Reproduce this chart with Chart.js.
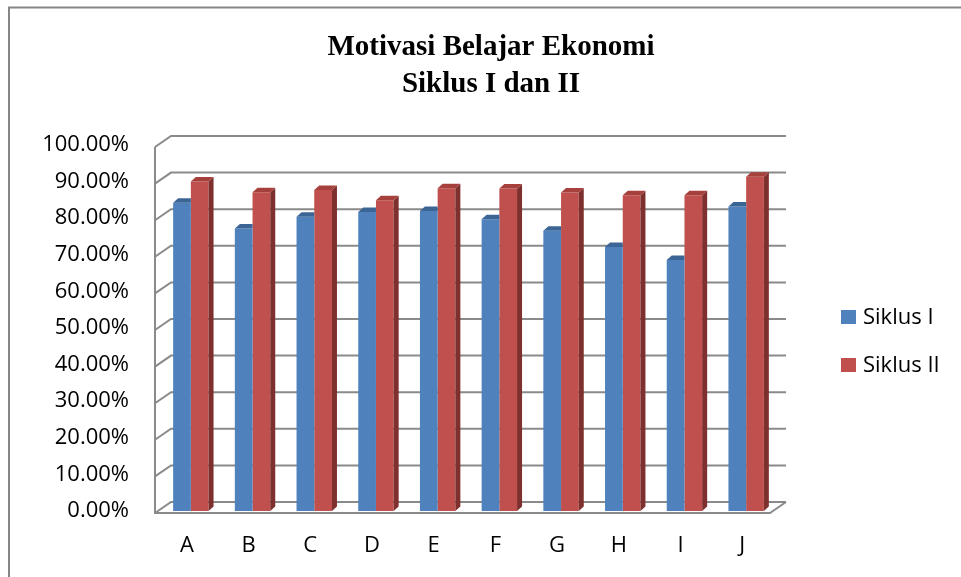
<!DOCTYPE html>
<html>
<head>
<meta charset="utf-8">
<script src="https://cdn.jsdelivr.net/npm/chart.js@4.4.1/dist/chart.umd.min.js"></script>
<style>
html, body { margin: 0; padding: 0; background: #fff; }
#wrap { width: 961px; height: 577px; }
</style>
</head>
<body>
<div id="wrap"><canvas id="chart" width="961" height="577"></canvas></div>
<script>
const categories = ['A', 'B', 'C', 'D', 'E', 'F', 'G', 'H', 'I', 'J'];
const siklus1 = [0.842, 0.772, 0.804, 0.817, 0.820, 0.797, 0.766, 0.721, 0.686, 0.832];
const siklus2 = [0.900, 0.871, 0.877, 0.849, 0.882, 0.881, 0.870, 0.863, 0.863, 0.913];
const seriesNames = ['Siklus I', 'Siklus II'];
const yTicks = [0, 0.1, 0.2, 0.3, 0.4, 0.5, 0.6, 0.7, 0.8, 0.9, 1.0];
const titleLines = ['Motivasi Belajar Ekonomi', 'Siklus I dan II'];

const frontColors = ['#4F81BD', '#C0504D'];
const topColors = ['#3B6595', '#A6403D'];
const sideColors = ['#385D8A', '#7E302E'];
const gridColor = '#8A8A8A';
const DX = 5, DY = -4.5; // bar depth

// walls, floor and bar depth faces
const fake3d = {
    id: 'fake3d',
    beforeDatasetsDraw(chart) {
        const ctx = chart.ctx;
        const y = chart.scales.y;
        const area = chart.chartArea;
        const fx = area.left - 5, bx = area.left + 11;
        const bxr = area.right + 9, fxr = area.right - 7;
        ctx.save();
        ctx.strokeStyle = gridColor;
        ctx.lineWidth = 2;
        ctx.beginPath();
        yTicks.forEach(v => {
            const p = y.getPixelForValue(v);
            ctx.moveTo(fx, p + 2);
            ctx.lineTo(bx, p - 9);
            ctx.lineTo(bxr, p - 9);
        });
        const top = y.getPixelForValue(yTicks[yTicks.length - 1]);
        const zero = y.getPixelForValue(0);
        ctx.moveTo(fx, top + 2);
        ctx.lineTo(fx, zero + 2);
        ctx.lineTo(fxr, zero + 2);
        ctx.lineTo(bxr, zero - 9);
        ctx.stroke();
        ctx.restore();
    },
    afterDatasetDraw(chart, args) {
        const ctx = chart.ctx;
        const i = args.index;
        // the right-hand bar hides the side of the left one
        const last = i === chart.data.datasets.length - 1;
        ctx.save();
        args.meta.data.forEach(bar => {
            const p = bar.getProps(['x', 'y', 'base', 'width'], true);
            const l = p.x - p.width / 2, r = p.x + p.width / 2;
            if (last) {
                ctx.fillStyle = sideColors[i];
                ctx.beginPath();
                ctx.moveTo(r, p.y);
                ctx.lineTo(r + DX, p.y + DY);
                ctx.lineTo(r + DX, p.base + DY);
                ctx.lineTo(r, p.base);
                ctx.closePath();
                ctx.fill();
            }
            const rt = last ? r + DX : r;
            ctx.fillStyle = topColors[i];
            ctx.beginPath();
            ctx.moveTo(l, p.y);
            ctx.lineTo(l + DX, p.y + DY);
            ctx.lineTo(rt, p.y + DY);
            ctx.lineTo(r, p.y);
            ctx.closePath();
            ctx.fill();
        });
        ctx.restore();
    },
    afterDraw(chart) {
        const ctx = chart.ctx;
        ctx.save();
        // outer frame
        ctx.strokeStyle = '#868686';
        ctx.lineWidth = 2;
        ctx.strokeRect(9, 7.5, 1000, 1000);
        // title
        ctx.fillStyle = '#000';
        ctx.font = 'bold 29px "Liberation Serif"';
        ctx.textAlign = 'center';
        ctx.textBaseline = 'alphabetic';
        ctx.fillText(titleLines[0], 491, 55);
        ctx.fillText(titleLines[1], 491, 91.5);
        // legend
        ctx.font = '22px "Open Sans"';
        ctx.textAlign = 'left';
        ctx.textBaseline = 'middle';
        chart.data.datasets.forEach((ds, k) => {
            const ly = 317 + k * 48;
            ctx.fillStyle = ds.backgroundColor;
            ctx.fillRect(841, ly - 7, 15, 14);
            ctx.fillStyle = '#000';
            ctx.fillText(ds.label, 863, ly + 1);
        });
        ctx.restore();
    }
};

Chart.defaults.font.family = '"Open Sans"';
Chart.defaults.font.size = 22;
Chart.defaults.color = '#000';

new Chart(document.getElementById('chart'), {
    type: 'bar',
    data: {
        labels: categories,
        datasets: [
            { label: seriesNames[0], data: siklus1, backgroundColor: frontColors[0] },
            { label: seriesNames[1], data: siklus2, backgroundColor: frontColors[1] }
        ]
    },
    options: {
        responsive: false,
        animation: false,
        devicePixelRatio: 1,
        layout: { padding: { left: 0, right: 184, top: 145, bottom: 0 } },
        datasets: { bar: { categoryPercentage: 0.574, barPercentage: 1.0 } },
        scales: {
            x: {
                grid: { display: false, drawTicks: false },
                border: { display: false },
                ticks: { padding: 22, labelOffset: -4 },
                afterFit: s => { s.height = 66; }
            },
            y: {
                min: 0,
                max: 1,
                grid: { display: false, drawTicks: false },
                border: { display: false },
                afterBuildTicks: s => { s.ticks = yTicks.map(v => ({ value: v })); },
                ticks: {
                    padding: 31,
                    callback: v => (v * 100).toFixed(2) + '%'
                },
                afterFit: s => { s.width = 160; }
            }
        },
        plugins: {
            legend: { display: false },
            title: { display: false },
            tooltip: { enabled: false }
        }
    },
    plugins: [fake3d]
});
</script>
</body>
</html>
